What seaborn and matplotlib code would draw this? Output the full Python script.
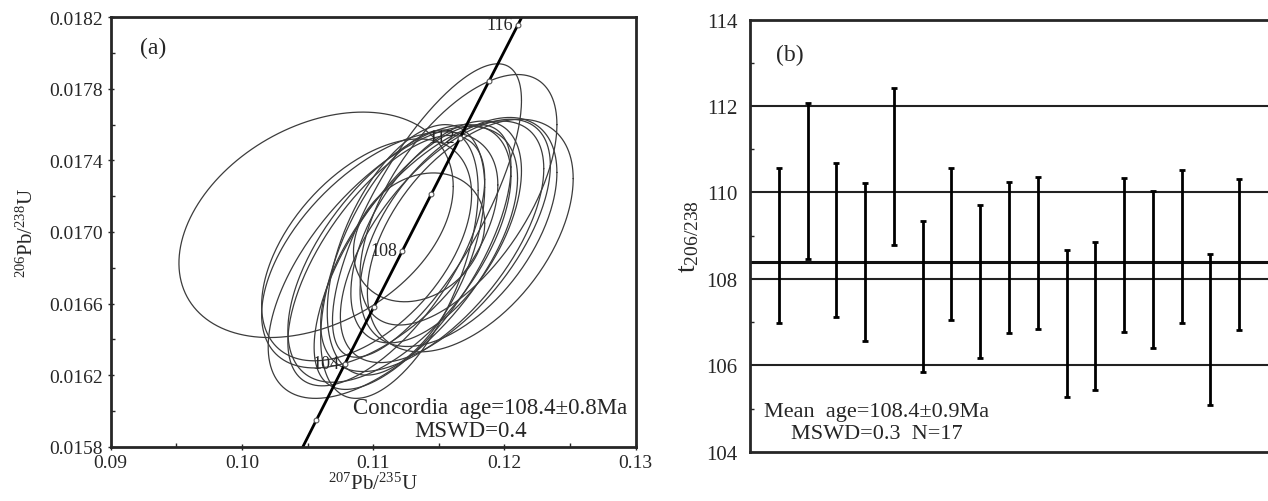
import numpy as np
import matplotlib
matplotlib.use("Agg")
import matplotlib.pyplot as plt
import seaborn as sns

# concordia reference points (age in Ma, 207Pb/235U, 206Pb/238U)
conc_age = [100, 102, 104, 106, 108, 110, 112, 114, 116, 118]
conc_x = [0.103498, 0.105674, 0.107854, 0.110038, 0.112226, 0.114419, 0.116617, 0.118818, 0.121024, 0.123234]
conc_y = [0.015633, 0.015949, 0.016264, 0.016579, 0.016895, 0.017210, 0.017526, 0.017842, 0.018157, 0.018473]
conc_labels = [104, 108, 112, 116]

# error ellipses: centre, half-widths and correlation
ell_cx = [0.10565, 0.1135, 0.1141, 0.1165, 0.1174, 0.1115, 0.1120, 0.1145, 0.1130,
          0.1155, 0.1120, 0.1105, 0.1148, 0.1165, 0.1110, 0.1125, 0.1095]
ell_cy = [0.01704, 0.01697, 0.01712, 0.01718, 0.01698, 0.01683, 0.01688, 0.01692, 0.01686,
          0.01695, 0.01682, 0.01690, 0.01700, 0.01700, 0.01684, 0.01690, 0.01690]
ell_dx = [0.01045, 0.0050, 0.0072, 0.0075, 0.00784, 0.0095, 0.0085, 0.0085, 0.0075,
          0.0080, 0.0060, 0.0090, 0.0065, 0.0075, 0.0075, 0.0060, 0.0080]
ell_dy = [0.00063, 0.00036, 0.00082, 0.00070, 0.00065, 0.00076, 0.00072, 0.00070, 0.00074,
          0.00068, 0.00075, 0.00066, 0.00062, 0.00064, 0.00070, 0.00070, 0.00062]
ell_rho = [0.34, 0.22, 0.75, 0.60, 0.49, 0.62, 0.60, 0.62, 0.68,
           0.62, 0.55, 0.55, 0.55, 0.52, 0.65, 0.50, 0.50]

# panel b: 206/238 ages with error bars
spot = list(range(1, 18))
age_top = [110.56, 112.07, 110.68, 110.22, 112.42, 109.33, 110.56, 109.72, 110.25,
           110.36, 108.68, 108.86, 110.33, 110.04, 110.51, 108.58, 110.32]
age_bot = [106.98, 108.45, 107.12, 106.57, 108.78, 105.85, 107.04, 106.16, 106.75,
           106.83, 105.26, 105.43, 106.77, 106.40, 106.98, 105.08, 106.81]
mean_age = 108.4
grid_b = [106, 108, 110, 112]

sns.set_style("ticks")
plt.rcParams['font.family'] = ['Liberation Serif', 'DejaVu Serif']
plt.rcParams['mathtext.fontset'] = 'custom'
plt.rcParams['mathtext.rm'] = 'Liberation Serif'
plt.rcParams['mathtext.it'] = 'Liberation Serif:italic'

fig = plt.figure(figsize=(12.68, 5.02), dpi=100)
ax1 = fig.add_axes([0.0873, 0.1082, 0.4140, 0.8554])
ax2 = fig.add_axes([0.5915, 0.0982, 0.4085, 0.8606])

# ---- panel a ----
t = np.linspace(0, 2 * np.pi, 300)
for cx, cy, dx, dy, r in zip(ell_cx, ell_cy, ell_dx, ell_dy, ell_rho):
    ex = cx + dx * np.cos(t)
    ey = cy + dy * (r * np.cos(t) + np.sqrt(1 - r * r) * np.sin(t))
    ax1.plot(ex, ey, color='#3c3c3c', lw=0.9)

sns.lineplot(x=conc_x, y=conc_y, sort=False, estimator=None, color='black', lw=2, ax=ax1)
ax1.scatter(conc_x, conc_y, s=12, facecolors='white', edgecolors='#555555', linewidths=0.8, zorder=3)
for a, x, y in zip(conc_age, conc_x, conc_y):
    if a in conc_labels:
        ax1.text(x - 0.0004, y, str(a), ha='right', va='center', fontsize=13)

ax1.set_xlim(0.09, 0.13)
ax1.set_ylim(0.0158, 0.0182)
ax1.set_xticks([0.09, 0.10, 0.11, 0.12, 0.13])
ax1.set_xticklabels(['0.09', '0.10', '0.11', '0.12', '0.13'])
ax1.set_xticks([0.095, 0.105, 0.115, 0.125], minor=True)
ax1.set_yticks(np.arange(0.0158, 0.01821, 0.0004))
ax1.set_yticklabels(['0.0158', '0.0162', '0.0166', '0.0170', '0.0174', '0.0178', '0.0182'])
ax1.set_yticks(np.arange(0.0160, 0.0181, 0.0004), minor=True)
ax1.tick_params(which='major', direction='inout', length=5, width=1, labelsize=14, pad=3)
ax1.tick_params(which='minor', direction='in', length=3, width=1)
ax1.set_xlabel(r'$^{207}\mathrm{Pb}/^{235}\mathrm{U}$', fontsize=15, labelpad=1)
ax1.set_ylabel(r'$^{206}\mathrm{Pb}/^{238}\mathrm{U}$', fontsize=15, labelpad=8)
ax1.text(0.055, 0.93, '(a)', transform=ax1.transAxes, fontsize=17, va='center')
ax1.text(0.723, 0.092, 'Concordia  age=108.4\u00b10.8Ma', transform=ax1.transAxes,
         fontsize=16.5, ha='center', va='center')
ax1.text(0.685, 0.037, 'MSWD=0.4', transform=ax1.transAxes,
         fontsize=16.5, ha='center', va='center')
for s in ax1.spines.values():
    s.set_linewidth(2)

# ---- panel b ----
for g in grid_b:
    ax2.axhline(g, color='#222222', lw=1.5)
ax2.axhline(mean_age, color='#111111', lw=2.2)
mid = [(a + b) / 2 for a, b in zip(age_top, age_bot)]
half = [(a - b) / 2 for a, b in zip(age_top, age_bot)]
ax2.errorbar(spot, mid, yerr=half, fmt='none', ecolor='black', elinewidth=2,
             capsize=2.5, capthick=2)
ax2.set_xlim(0, 18)
ax2.set_ylim(104, 114)
ax2.set_xticks([])
ax2.set_yticks([104, 106, 108, 110, 112, 114])
ax2.set_yticks([105, 107, 109, 111, 113], minor=True)
ax2.tick_params(which='major', direction='in', length=0, labelsize=15, pad=9)
ax2.tick_params(which='minor', direction='in', length=3, width=1, left=True)
ax2.set_ylabel(r'$\mathrm{t}_{206/238}$', fontsize=20, labelpad=4)
ax2.text(0.05, 0.92, '(b)', transform=ax2.transAxes, fontsize=17, va='center')
ax2.text(0.027, 0.094, 'Mean  age=108.4\u00b10.9Ma', transform=ax2.transAxes,
         fontsize=16, ha='left', va='center')
ax2.text(0.08, 0.041, 'MSWD=0.3  N=17', transform=ax2.transAxes,
         fontsize=16, ha='left', va='center')
for s in ax2.spines.values():
    s.set_linewidth(2)
ax2.spines['right'].set_visible(False)

fig.savefig('out.png', dpi=100)
